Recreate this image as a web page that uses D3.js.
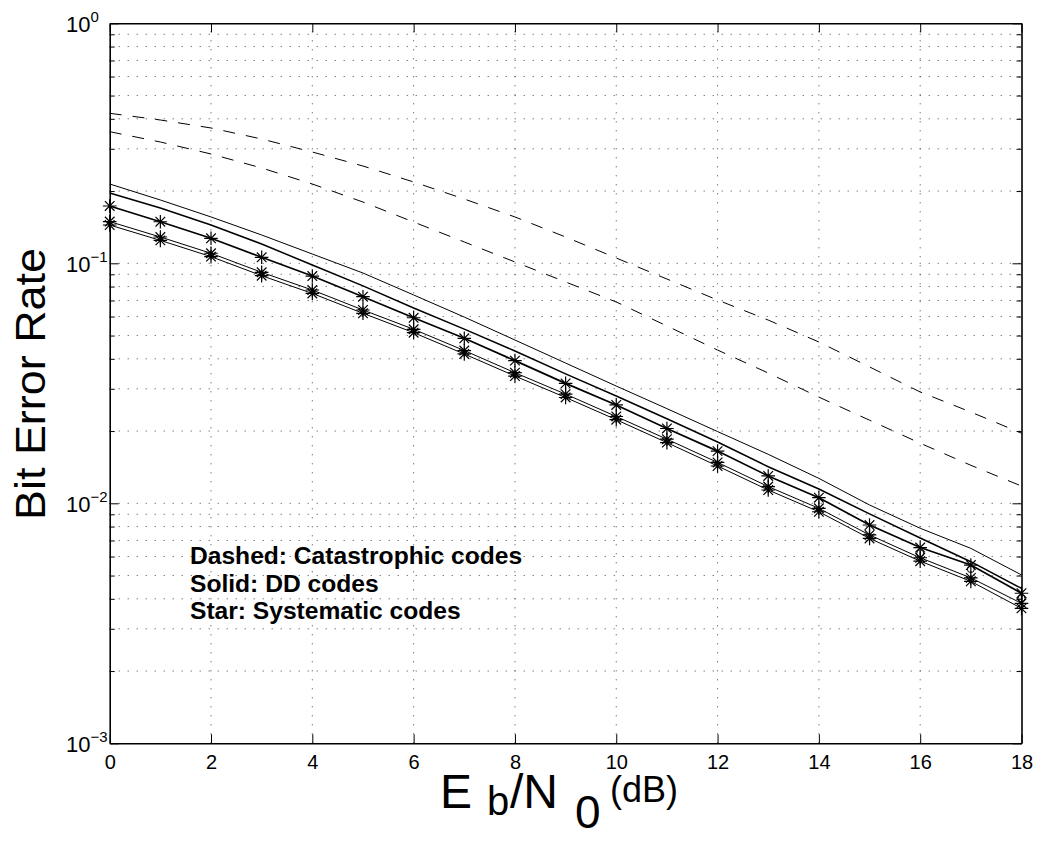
<!DOCTYPE html>
<html><head><meta charset="utf-8">
<script src="https://cdn.jsdelivr.net/npm/d3@7"></script>
<style>
body{margin:0;background:#fff}
svg{display:block}
text{font-family:"Liberation Sans",Arial,Helvetica,sans-serif;fill:#000}
</style>
</head><body>
<svg id="chart" width="1042" height="842"></svg>
<script>
// ---- data ----
const ebn0 = [0,1,2,3,4,5,6,7,8,9,10,11,12,13,14,15,16,17,18];
const catastrophic1 = [0.4217,0.3955,0.3663,0.3295,0.2909,0.2543,0.2182,0.1853,0.1560,0.1287,0.1052,0.0860,0.0703,0.0580,0.0470,0.0370,0.0291,0.0240,0.0196];
const catastrophic2 = [0.3535,0.3202,0.2854,0.2495,0.2140,0.1800,0.1486,0.1227,0.1013,0.0836,0.0690,0.0548,0.0435,0.0349,0.0277,0.0222,0.0178,0.0144,0.0118];
const dd1 = [0.2140,0.1836,0.1560,0.1312,0.1093,0.0911,0.0738,0.0597,0.0479,0.0384,0.0308,0.0248,0.0199,0.0160,0.0127,0.00984,0.00787,0.00649,0.00503];
const dd2 = [0.1963,0.1700,0.1444,0.1203,0.0984,0.0805,0.0651,0.0532,0.0431,0.0346,0.0280,0.0225,0.0180,0.0142,0.01147,0.00903,0.00717,0.00571,0.00442];
const sys1 = [0.1733,0.1490,0.1271,0.1059,0.0885,0.0726,0.0593,0.0487,0.0393,0.0316,0.0257,0.0205,0.0165,0.0130,0.01055,0.00812,0.00654,0.00553,0.00422];
const sys2 = [0.1492,0.1287,0.1101,0.0917,0.0774,0.0639,0.0531,0.0433,0.0350,0.0285,0.0230,0.0185,0.0148,0.01174,0.00953,0.00738,0.00593,0.00489,0.00383];
const sys3 = [0.1444,0.1246,0.1066,0.0888,0.0749,0.0619,0.0514,0.0419,0.0339,0.0276,0.0223,0.0179,0.0143,0.01136,0.00922,0.00714,0.00574,0.00473,0.00365];
const circleX = [16,17,18];
const circleVals = [0.00619,0.00532,0.00402];
const xTicks = [0,2,4,6,8,10,12,14,16,18];
const yMajor = [1e-3,1e-2,1e-1,1];
const yExp = ["\u22123","\u22122","\u22121","0"];
const legendLines = ["Dashed: Catastrophic codes","Solid: DD codes","Star: Systematic codes"];

// ---- layout ----
const L=109.7, R=1021.5, T=23.3, B=743.3;
const svg = d3.select("#chart");
const x = d3.scaleLinear().domain([0,18]).range([L,R]);
const y = d3.scaleLog().domain([1e-3,1]).range([B,T]);
const yMinor = y.ticks().filter(v => yMajor.indexOf(v) < 0);

// grid
const grid = svg.append("g").attr("stroke","#444").attr("stroke-width",1).attr("stroke-dasharray","1,8");
xTicks.filter(v=>v>0&&v<18).forEach(v=>{
  grid.append("line").attr("x1",x(v)).attr("x2",x(v)).attr("y1",B).attr("y2",T);
});
y.ticks().filter(v=>v>1e-3&&v<1).forEach(v=>{
  grid.append("line").attr("x1",L).attr("x2",R).attr("y1",y(v)).attr("y2",y(v));
});

// axes
function styleAxis(g){
  g.selectAll("path.domain").attr("stroke","#000").attr("stroke-width",1.6);
  g.selectAll(".tick line").attr("stroke","#000").attr("stroke-width",1);
}
const xb = svg.append("g").attr("transform",`translate(0,${B})`)
  .call(d3.axisBottom(x).tickValues(xTicks).tickSizeInner(-9).tickSizeOuter(0).tickPadding(12).tickFormat(d3.format("d")));
xb.attr("font-size",20).attr("font-family",'"Liberation Sans",Arial,sans-serif');
xb.selectAll("text").attr("fill","#000");
styleAxis(xb);
const xt = svg.append("g").attr("transform",`translate(0,${T})`)
  .call(d3.axisTop(x).tickValues(xTicks).tickSizeInner(-9).tickSizeOuter(0).tickFormat(""));
styleAxis(xt);
const yl = svg.append("g").attr("transform",`translate(${L},0)`)
  .call(d3.axisLeft(y).tickValues(yMajor).tickSizeInner(-9).tickSizeOuter(0).tickFormat(""));
styleAxis(yl);
const ylm = svg.append("g").attr("transform",`translate(${L},0)`)
  .call(d3.axisLeft(y).tickValues(yMinor).tickSizeInner(-5).tickSizeOuter(0).tickFormat(""));
ylm.select("path.domain").remove(); styleAxis(ylm);
const yr = svg.append("g").attr("transform",`translate(${R},0)`)
  .call(d3.axisRight(y).tickValues(yMajor).tickSizeInner(-9).tickSizeOuter(0).tickFormat(""));
styleAxis(yr);
const yrm = svg.append("g").attr("transform",`translate(${R},0)`)
  .call(d3.axisRight(y).tickValues(yMinor).tickSizeInner(-5).tickSizeOuter(0).tickFormat(""));
yrm.select("path.domain").remove(); styleAxis(yrm);

// y tick labels 10^n
yMajor.forEach((v,i)=>{
  const t = svg.append("text").attr("x",66).attr("y",y(v)+8.4).attr("font-size",22);
  t.append("tspan").text("10");
  t.append("tspan").attr("dy",-10).attr("font-size",15).text(yExp[i]);
});

// lines
const line = d3.line().x((d,i)=>x(ebn0[i])).y(d=>y(d));
const plotG = svg.append("g").attr("fill","none").attr("stroke","#000");
plotG.append("path").attr("d",line(catastrophic1)).attr("stroke-width",1).attr("stroke-dasharray","12,11");
plotG.append("path").attr("d",line(catastrophic2)).attr("stroke-width",1).attr("stroke-dasharray","12,11");
plotG.append("path").attr("d",line(dd1)).attr("stroke-width",1);
plotG.append("path").attr("d",line(dd2)).attr("stroke-width",1.5);
plotG.append("path").attr("d",line(sys1)).attr("stroke-width",1.7);
plotG.append("path").attr("d",line(sys2)).attr("stroke-width",1);
plotG.append("path").attr("d",line(sys3)).attr("stroke-width",1);

// star markers
const r=6.8, dg=4.8;
const star = `M${-r},0H${r}M0,${-r}V${r}M${-dg},${-dg}L${dg},${dg}M${-dg},${dg}L${dg},${-dg}`;
[sys1,sys2,sys3].forEach(s=>{
  plotG.selectAll(null).data(s).enter().append("path")
    .attr("d",star).attr("stroke-width",1.2)
    .attr("transform",(d,i)=>`translate(${x(ebn0[i])},${y(d)})`);
});
plotG.selectAll(null).data(circleVals).enter().append("circle")
  .attr("cx",(d,i)=>x(circleX[i])).attr("cy",d=>y(d)).attr("r",3.5).attr("stroke-width",1);

// legend text
legendLines.forEach((s,i)=>{
  svg.append("text").attr("x",190).attr("y",564+i*27.5).attr("font-size",24.6).attr("font-weight","bold").text(s);
});

// axis labels
svg.append("text").attr("transform","translate(45,384) rotate(-90)").attr("text-anchor","middle")
  .attr("font-size",42).attr("textLength",272).attr("lengthAdjust","spacingAndGlyphs").text("Bit Error Rate");
svg.append("text").attr("x",440).attr("y",808).attr("font-size",48).text("E");
svg.append("text").attr("x",487).attr("y",815).attr("font-size",40).text("b");
svg.append("text").attr("x",510).attr("y",808).attr("font-size",48).text("/N");
svg.append("text").attr("x",575).attr("y",828).attr("font-size",46).text("0");
svg.append("text").attr("x",610).attr("y",802).attr("font-size",36).text("(dB)");
</script>
</body></html>
